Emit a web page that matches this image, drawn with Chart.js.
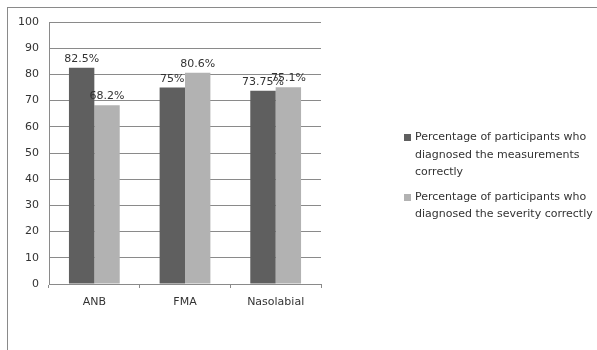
<!DOCTYPE html>
<html>
<head>
<meta charset="utf-8">
<script src="https://cdn.jsdelivr.net/npm/chart.js@4"></script>
<style>
body { margin:0; background:#fff; }
#wrap { position:relative; width:597px; height:350px; }
#frame { position:absolute; left:7px; top:7px; width:590px; height:343px; border-top:1px solid #8a8a8a; border-left:1px solid #8a8a8a; }
#legend { position:absolute; left:404px; top:128px; font-family:"DejaVu Sans"; font-size:11px; color:#333; }
#legend .item { position:relative; padding-left:11px; line-height:17.5px; margin-bottom:7px; }
#legend .box { position:absolute; left:0; top:6px; width:7px; height:7px; }
</style>
</head>
<body>
<div id="wrap">
  <canvas id="chart" width="597" height="350"></canvas>
  <div id="frame"></div>
  <div id="legend"></div>
</div>
<script>
// values
const categories = ["ANB", "FMA", "Nasolabial"];
const measurements = [82.5, 75, 73.75];
const severity = [68.2, 80.6, 75.1];
const measurementLabels = ["82.5%", "75%", "73.75%"];
const severityLabels = ["68.2%", "80.6%", "75.1%"];
const seriesNames = [
    ["Percentage of participants who", "diagnosed the measurements", "correctly"],
    ["Percentage of participants who", "diagnosed the severity correctly"]
];
const seriesColors = ["#5f5f5f", "#b2b2b2"];
const yTicks = [0, 10, 20, 30, 40, 50, 60, 70, 80, 90, 100];

const valueLabels = {
    id: "valueLabels",
    afterDatasetsDraw(chart) {
        const ctx = chart.ctx;
        const texts = [measurementLabels, severityLabels];
        ctx.save();
        ctx.font = "11px 'DejaVu Sans'";
        ctx.fillStyle = "#333";
        ctx.textAlign = "center";
        ctx.textBaseline = "alphabetic";
        chart.data.datasets.forEach((ds, i) => {
            chart.getDatasetMeta(i).data.forEach((bar, j) => {
                ctx.fillText(texts[i][j], bar.x, bar.y - 6);
            });
        });
        ctx.restore();
    }
};

let ctx1 = document.getElementById("chart");
let chart = new Chart(ctx1, {
    type: "bar",
    plugins: [valueLabels],
    data: {
        labels: categories,
        datasets: [
            { label: seriesNames[0].join(" "), data: measurements, backgroundColor: seriesColors[0] },
            { label: seriesNames[1].join(" "), data: severity, backgroundColor: seriesColors[1] }
        ]
    },
    options: {
        responsive: false,
        animation: false,
        layout: { padding: { left: 0, top: 22, right: 276, bottom: 0 } },
        categoryPercentage: 0.56,
        barPercentage: 1,
        plugins: { legend: { display: false }, tooltip: { enabled: false } },
        scales: {
            x: {
                grid: { offset: true, drawOnChartArea: false, tickLength: 4, color: "#8a8a8a" },
                border: { color: "#8a8a8a" },
                ticks: { color: "#333", font: { family: "DejaVu Sans", size: 11 }, padding: 8 },
                afterFit: s => { s.height = 66; }
            },
            y: {
                min: 0, max: 100,
                afterBuildTicks: s => { s.ticks = yTicks.map(v => ({ value: v })); },
                grid: { color: "#8a8a8a", tickLength: 0 },
                border: { color: "#8a8a8a" },
                ticks: { color: "#333", font: { family: "DejaVu Sans", size: 11 }, padding: 10 },
                afterFit: s => { s.width = 49; }
            }
        }
    }
});

// legend with the same wrapping as the picture
let legend = document.getElementById("legend");
seriesNames.forEach((lines, i) => {
    let item = document.createElement("div");
    item.className = "item";
    item.innerHTML = '<span class="box" style="background:' + seriesColors[i] + '"></span>' + lines.join("<br>");
    legend.appendChild(item);
});
</script>
</body>
</html>
